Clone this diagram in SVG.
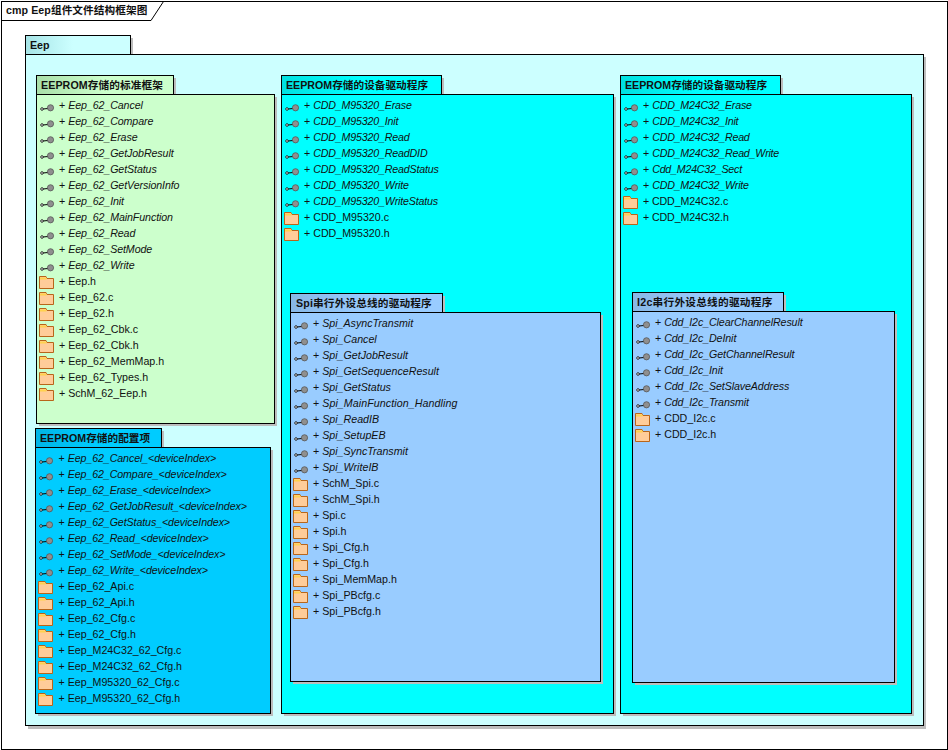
<svg xmlns="http://www.w3.org/2000/svg" xmlns:xlink="http://www.w3.org/1999/xlink" width="948" height="750" viewBox="0 0 948 750">
<style>
text{font-family:"Liberation Sans","Noto Sans CJK SC",sans-serif;font-size:10.67px;fill:#111}
.t{font-weight:bold}
.i{font-style:italic}
.s{fill:#bdbdbd}
.b{stroke:#000;stroke-width:1}
.l{fill:none;stroke:#000;stroke-width:1}
#pkg-standard .i,#pkg-config .i,#pkg-i2c .i{letter-spacing:-.1px}
#pkg-m95320 .i{letter-spacing:-.17px}
#pkg-m24c32 .i{letter-spacing:-.22px}
#pkg-spi .t{letter-spacing:.15px}
#pkg-i2c .t{letter-spacing:.25px}
#frame-label .t{letter-spacing:.07px}
</style>
<defs>
<linearGradient id="gE"><stop offset="0" stop-color="#a6e4e6"/><stop offset="0.45" stop-color="#ccffff"/></linearGradient>
<linearGradient id="gA"><stop offset="0" stop-color="#a9dfa9"/><stop offset="0.5" stop-color="#ccffcc"/></linearGradient>
<linearGradient id="gB"><stop offset="0" stop-color="#00b4e6"/><stop offset="0.5" stop-color="#00ccff"/></linearGradient>
<linearGradient id="gC"><stop offset="0" stop-color="#00e0e0"/><stop offset="0.5" stop-color="#00ffff"/></linearGradient>
<linearGradient id="gE2"><stop offset="0" stop-color="#88b8e6"/><stop offset="0.5" stop-color="#99ccff"/></linearGradient>
<g id="lol"><path d="M3 4L8 3.500" stroke="#000" stroke-width="1"/><circle cx="2" cy="4" r="1.300" fill="#fff" stroke="#000" stroke-width="0.800"/><circle cx="10.500" cy="2.800" r="3.100" fill="#8f8f8f" stroke="#555" stroke-width="0.800"/></g>
<g id="fol"><path d="M0.500 0.500H7L8 2.500H14.500V12.500H0.500Z" fill="#ffcc99" stroke="#b8651a" stroke-width="1"/><path d="M1 2.500H7.500" stroke="#ffd24d" stroke-width="2"/></g>
</defs>
<rect class="l" x="1.500" y="1.500" width="946" height="748"/>
<g id="frame-label"><path d="M1.500 20.500H151L163.500 1.500" class="l"/><text class="t" x="6" y="14">cmp Eep组件文件结构框架图</text></g>
<g id="pkg-eep">
<rect class="s" x="28" y="38" width="105" height="20"/><rect class="s" x="28" y="57" width="898" height="672"/>
<rect class="b" x="25.500" y="35.500" width="105" height="19" fill="url(#gE)"/>
<rect class="b" x="25.500" y="54.500" width="898" height="671" fill="#ccffff"/>
<text class="t" x="30" y="49">Eep</text>
</g>
<g id="pkg-standard">
<rect class="s" x="39" y="78" width="137" height="20"/><rect class="s" x="39" y="97" width="238" height="329"/>
<rect class="b" x="36.500" y="75.500" width="137" height="19" fill="url(#gA)"/>
<rect class="b" x="36.500" y="94.500" width="238" height="329" fill="#ccffcc"/>
<text class="t" x="41" y="89" style="letter-spacing:.1px">EEPROM存储的标准框架</text>
<use xlink:href="#lol" x="40" y="105"/><text x="59" y="109">+ <tspan class="i">Eep_62_Cancel</tspan></text>
<use xlink:href="#lol" x="40" y="121"/><text x="59" y="125">+ <tspan class="i">Eep_62_Compare</tspan></text>
<use xlink:href="#lol" x="40" y="137"/><text x="59" y="141">+ <tspan class="i">Eep_62_Erase</tspan></text>
<use xlink:href="#lol" x="40" y="153"/><text x="59" y="157">+ <tspan class="i">Eep_62_GetJobResult</tspan></text>
<use xlink:href="#lol" x="40" y="169"/><text x="59" y="173">+ <tspan class="i">Eep_62_GetStatus</tspan></text>
<use xlink:href="#lol" x="40" y="185"/><text x="59" y="189">+ <tspan class="i">Eep_62_GetVersionInfo</tspan></text>
<use xlink:href="#lol" x="40" y="201"/><text x="59" y="205">+ <tspan class="i">Eep_62_Init</tspan></text>
<use xlink:href="#lol" x="40" y="217"/><text x="59" y="221">+ <tspan class="i">Eep_62_MainFunction</tspan></text>
<use xlink:href="#lol" x="40" y="233"/><text x="59" y="237">+ <tspan class="i">Eep_62_Read</tspan></text>
<use xlink:href="#lol" x="40" y="249"/><text x="59" y="253">+ <tspan class="i">Eep_62_SetMode</tspan></text>
<use xlink:href="#lol" x="40" y="265"/><text x="59" y="269">+ <tspan class="i">Eep_62_Write</tspan></text>
<use xlink:href="#fol" x="39" y="276"/><text x="59" y="285">+ Eep.h</text>
<use xlink:href="#fol" x="39" y="292"/><text x="59" y="301">+ Eep_62.c</text>
<use xlink:href="#fol" x="39" y="308"/><text x="59" y="317">+ Eep_62.h</text>
<use xlink:href="#fol" x="39" y="324"/><text x="59" y="333">+ Eep_62_Cbk.c</text>
<use xlink:href="#fol" x="39" y="340"/><text x="59" y="349">+ Eep_62_Cbk.h</text>
<use xlink:href="#fol" x="39" y="356"/><text x="59" y="365">+ Eep_62_MemMap.h</text>
<use xlink:href="#fol" x="39" y="372"/><text x="59" y="381">+ Eep_62_Types.h</text>
<use xlink:href="#fol" x="39" y="388"/><text x="59" y="397">+ SchM_62_Eep.h</text>
</g>
<g id="pkg-config">
<rect class="s" x="38" y="431" width="126" height="20"/><rect class="s" x="38" y="450" width="235" height="266"/>
<rect class="b" x="35.500" y="428.500" width="126" height="19" fill="url(#gB)"/>
<rect class="b" x="35.500" y="447.500" width="235" height="266" fill="#00ccff"/>
<text class="t" x="40" y="442">EEPROM存储的配置项</text>
<use xlink:href="#lol" x="39" y="458"/><text x="58.500" y="462">+ <tspan class="i">Eep_62_Cancel_&lt;deviceIndex&gt;</tspan></text>
<use xlink:href="#lol" x="39" y="474"/><text x="58.500" y="478">+ <tspan class="i">Eep_62_Compare_&lt;deviceIndex&gt;</tspan></text>
<use xlink:href="#lol" x="39" y="490"/><text x="58.500" y="494">+ <tspan class="i">Eep_62_Erase_&lt;deviceIndex&gt;</tspan></text>
<use xlink:href="#lol" x="39" y="506"/><text x="58.500" y="510">+ <tspan class="i">Eep_62_GetJobResult_&lt;deviceIndex&gt;</tspan></text>
<use xlink:href="#lol" x="39" y="522"/><text x="58.500" y="526">+ <tspan class="i">Eep_62_GetStatus_&lt;deviceIndex&gt;</tspan></text>
<use xlink:href="#lol" x="39" y="538"/><text x="58.500" y="542">+ <tspan class="i">Eep_62_Read_&lt;deviceIndex&gt;</tspan></text>
<use xlink:href="#lol" x="39" y="554"/><text x="58.500" y="558">+ <tspan class="i">Eep_62_SetMode_&lt;deviceIndex&gt;</tspan></text>
<use xlink:href="#lol" x="39" y="570"/><text x="58.500" y="574">+ <tspan class="i">Eep_62_Write_&lt;deviceIndex&gt;</tspan></text>
<use xlink:href="#fol" x="38" y="581"/><text x="58.500" y="590">+ Eep_62_Api.c</text>
<use xlink:href="#fol" x="38" y="597"/><text x="58.500" y="606">+ Eep_62_Api.h</text>
<use xlink:href="#fol" x="38" y="613"/><text x="58.500" y="622">+ Eep_62_Cfg.c</text>
<use xlink:href="#fol" x="38" y="629"/><text x="58.500" y="638">+ Eep_62_Cfg.h</text>
<use xlink:href="#fol" x="38" y="645"/><text x="58.500" y="654">+ Eep_M24C32_62_Cfg.c</text>
<use xlink:href="#fol" x="38" y="661"/><text x="58.500" y="670">+ Eep_M24C32_62_Cfg.h</text>
<use xlink:href="#fol" x="38" y="677"/><text x="58.500" y="686">+ Eep_M95320_62_Cfg.c</text>
<use xlink:href="#fol" x="38" y="693"/><text x="58.500" y="702">+ Eep_M95320_62_Cfg.h</text>
</g>
<g id="pkg-m95320">
<rect class="s" x="284" y="78" width="160" height="20"/><rect class="s" x="284" y="97" width="332" height="619"/>
<rect class="b" x="281.500" y="75.500" width="160" height="19" fill="url(#gC)"/>
<rect class="b" x="281.500" y="94.500" width="332" height="619" fill="#00ffff"/>
<text class="t" x="286" y="89">EEPROM存储的设备驱动程序</text>
<use xlink:href="#lol" x="285" y="105"/><text x="304" y="109">+ <tspan class="i">CDD_M95320_Erase</tspan></text>
<use xlink:href="#lol" x="285" y="121"/><text x="304" y="125">+ <tspan class="i">CDD_M95320_Init</tspan></text>
<use xlink:href="#lol" x="285" y="137"/><text x="304" y="141">+ <tspan class="i">CDD_M95320_Read</tspan></text>
<use xlink:href="#lol" x="285" y="153"/><text x="304" y="157">+ <tspan class="i">CDD_M95320_ReadDID</tspan></text>
<use xlink:href="#lol" x="285" y="169"/><text x="304" y="173">+ <tspan class="i">CDD_M95320_ReadStatus</tspan></text>
<use xlink:href="#lol" x="285" y="185"/><text x="304" y="189">+ <tspan class="i">CDD_M95320_Write</tspan></text>
<use xlink:href="#lol" x="285" y="201"/><text x="304" y="205">+ <tspan class="i">CDD_M95320_WriteStatus</tspan></text>
<use xlink:href="#fol" x="284" y="212"/><text x="304" y="221">+ CDD_M95320.c</text>
<use xlink:href="#fol" x="284" y="228"/><text x="304" y="237">+ CDD_M95320.h</text>
</g>
<g id="pkg-spi">
<rect class="s" x="293" y="296" width="152" height="20"/><rect class="s" x="293" y="315" width="310" height="369"/>
<rect class="b" x="290.500" y="293.500" width="152" height="19" fill="url(#gE2)"/>
<rect class="b" x="290.500" y="312.500" width="310" height="369" fill="#99ccff"/>
<text class="t" x="296" y="307">Spi串行外设总线的驱动程序</text>
<use xlink:href="#lol" x="294" y="323"/><text x="313" y="327">+ <tspan class="i">Spi_AsyncTransmit</tspan></text>
<use xlink:href="#lol" x="294" y="339"/><text x="313" y="343">+ <tspan class="i">Spi_Cancel</tspan></text>
<use xlink:href="#lol" x="294" y="355"/><text x="313" y="359">+ <tspan class="i">Spi_GetJobResult</tspan></text>
<use xlink:href="#lol" x="294" y="371"/><text x="313" y="375">+ <tspan class="i">Spi_GetSequenceResult</tspan></text>
<use xlink:href="#lol" x="294" y="387"/><text x="313" y="391">+ <tspan class="i">Spi_GetStatus</tspan></text>
<use xlink:href="#lol" x="294" y="403"/><text x="313" y="407">+ <tspan class="i" style="letter-spacing:.08px">Spi_MainFunction_Handling</tspan></text>
<use xlink:href="#lol" x="294" y="419"/><text x="313" y="423">+ <tspan class="i">Spi_ReadIB</tspan></text>
<use xlink:href="#lol" x="294" y="435"/><text x="313" y="439">+ <tspan class="i">Spi_SetupEB</tspan></text>
<use xlink:href="#lol" x="294" y="451"/><text x="313" y="455">+ <tspan class="i">Spi_SyncTransmit</tspan></text>
<use xlink:href="#lol" x="294" y="467"/><text x="313" y="471">+ <tspan class="i">Spi_WriteIB</tspan></text>
<use xlink:href="#fol" x="293" y="478"/><text x="313" y="487">+ SchM_Spi.c</text>
<use xlink:href="#fol" x="293" y="494"/><text x="313" y="503">+ SchM_Spi.h</text>
<use xlink:href="#fol" x="293" y="510"/><text x="313" y="519">+ Spi.c</text>
<use xlink:href="#fol" x="293" y="526"/><text x="313" y="535">+ Spi.h</text>
<use xlink:href="#fol" x="293" y="542"/><text x="313" y="551">+ Spi_Cfg.h</text>
<use xlink:href="#fol" x="293" y="558"/><text x="313" y="567">+ Spi_Cfg.h</text>
<use xlink:href="#fol" x="293" y="574"/><text x="313" y="583">+ Spi_MemMap.h</text>
<use xlink:href="#fol" x="293" y="590"/><text x="313" y="599">+ Spi_PBcfg.c</text>
<use xlink:href="#fol" x="293" y="606"/><text x="313" y="615">+ Spi_PBcfg.h</text>
</g>
<g id="pkg-m24c32">
<rect class="s" x="623" y="78" width="160" height="20"/><rect class="s" x="623" y="97" width="291" height="619"/>
<rect class="b" x="620.500" y="75.500" width="160" height="19" fill="url(#gC)"/>
<rect class="b" x="620.500" y="94.500" width="291" height="619" fill="#00ffff"/>
<text class="t" x="625" y="89">EEPROM存储的设备驱动程序</text>
<use xlink:href="#lol" x="624" y="105"/><text x="643" y="109">+ <tspan class="i">CDD_M24C32_Erase</tspan></text>
<use xlink:href="#lol" x="624" y="121"/><text x="643" y="125">+ <tspan class="i">CDD_M24C32_Init</tspan></text>
<use xlink:href="#lol" x="624" y="137"/><text x="643" y="141">+ <tspan class="i">CDD_M24C32_Read</tspan></text>
<use xlink:href="#lol" x="624" y="153"/><text x="643" y="157">+ <tspan class="i">CDD_M24C32_Read_Write</tspan></text>
<use xlink:href="#lol" x="624" y="169"/><text x="643" y="173">+ <tspan class="i">Cdd_M24C32_Sect</tspan></text>
<use xlink:href="#lol" x="624" y="185"/><text x="643" y="189">+ <tspan class="i">CDD_M24C32_Write</tspan></text>
<use xlink:href="#fol" x="623" y="196"/><text x="643" y="205" style="letter-spacing:-.12px">+ CDD_M24C32.c</text>
<use xlink:href="#fol" x="623" y="212"/><text x="643" y="221" style="letter-spacing:-.12px">+ CDD_M24C32.h</text>
</g>
<g id="pkg-i2c">
<rect class="s" x="635" y="295" width="151" height="20"/><rect class="s" x="635" y="314" width="262" height="371"/>
<rect class="b" x="632.500" y="292.500" width="151" height="19" fill="url(#gE2)"/>
<rect class="b" x="632.500" y="311.500" width="262" height="371" fill="#99ccff"/>
<text class="t" x="637" y="306">I2c串行外设总线的驱动程序</text>
<use xlink:href="#lol" x="636" y="322"/><text x="655" y="326">+ <tspan class="i">Cdd_I2c_ClearChannelResult</tspan></text>
<use xlink:href="#lol" x="636" y="338"/><text x="655" y="342">+ <tspan class="i">Cdd_I2c_DeInit</tspan></text>
<use xlink:href="#lol" x="636" y="354"/><text x="655" y="358">+ <tspan class="i">Cdd_I2c_GetChannelResult</tspan></text>
<use xlink:href="#lol" x="636" y="370"/><text x="655" y="374">+ <tspan class="i">Cdd_I2c_Init</tspan></text>
<use xlink:href="#lol" x="636" y="386"/><text x="655" y="390">+ <tspan class="i">Cdd_I2c_SetSlaveAddress</tspan></text>
<use xlink:href="#lol" x="636" y="402"/><text x="655" y="406">+ <tspan class="i">Cdd_I2c_Transmit</tspan></text>
<use xlink:href="#fol" x="635" y="413"/><text x="655" y="422">+ CDD_I2c.c</text>
<use xlink:href="#fol" x="635" y="429"/><text x="655" y="438">+ CDD_I2c.h</text>
</g>
<g id="connectors"/>
</svg>
